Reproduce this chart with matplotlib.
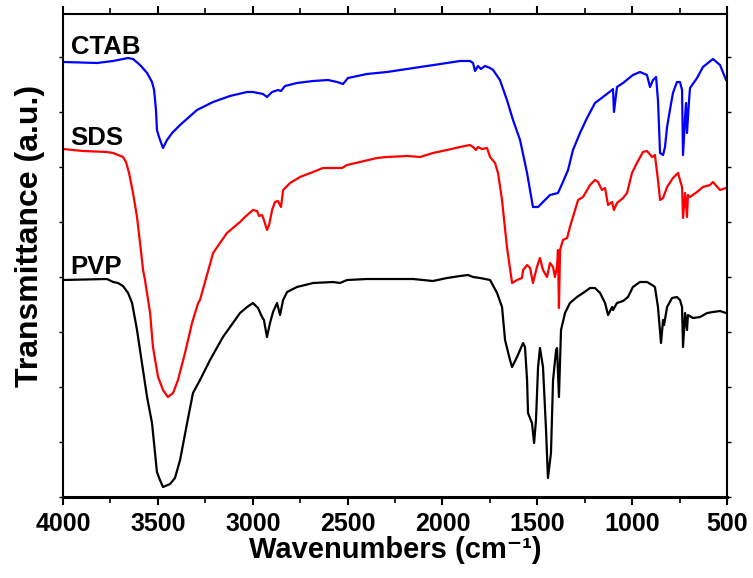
import numpy as np
import matplotlib
matplotlib.use('Agg')
import matplotlib.pyplot as plt
from matplotlib.ticker import MultipleLocator, NullFormatter

plt.rcParams['font.family'] = ['Liberation Sans', 'DejaVu Sans']
plt.rcParams['font.weight'] = 'bold'

# FTIR spectra (wavenumber in cm-1, transmittance in a.u.)
ctab_wn = [4000, 3821, 3736, 3657, 3631, 3594, 3557, 3531, 3520, 3510, 3505, 3494, 3473, 3452,
           3425, 3383, 3294, 3209, 3120, 3030, 2999, 2946, 2925, 2898, 2867, 2851, 2830, 2767,
           2682, 2603, 2556, 2524, 2498, 2398, 2292, 2187, 2081, 1976, 1907, 1855, 1839, 1828,
           1813, 1797, 1776, 1749, 1733, 1697, 1660, 1628, 1591, 1554, 1523, 1496, 1470, 1433,
           1391, 1365, 1338, 1312, 1275, 1238, 1196, 1154, 1106, 1101, 1096, 1080, 1048, 996,
           959, 922, 906, 890, 874, 864, 853, 837, 827, 816, 801, 785, 764, 748, 737, 732, 721,
           716, 711, 700, 695, 658, 627, 574, 537, 505]
ctab_t = [435, 434, 436, 439, 438, 432, 424, 415, 407, 387, 367, 360, 349, 357,
          364, 372, 387, 395, 401, 405, 405, 403, 400, 405, 407, 406, 411, 414,
          416, 417, 415, 413, 419, 423, 425, 428, 431, 434, 436, 436, 434, 426,
          431, 428, 431, 429, 427, 417, 397, 377, 357, 324, 290, 290, 295, 302,
          304, 315, 327, 347, 364, 379, 394, 400, 407, 408, 385, 410, 414, 422,
          425, 422, 410, 417, 420, 397, 344, 342, 350, 370, 387, 404, 415, 415, 407, 342, 380,
          394, 364, 397, 409, 419, 430, 438, 432, 417]

sds_wn = [4000, 3895, 3768, 3736, 3710, 3684, 3668, 3652, 3631, 3610, 3594, 3578, 3568, 3541,
          3526, 3499, 3473, 3447, 3420, 3394, 3357, 3320, 3288, 3278, 3209, 3136, 3067, 3041,
          2999, 2977, 2967, 2951, 2941, 2925, 2914, 2898, 2883, 2867, 2851, 2840, 2803, 2751,
          2682, 2630, 2529, 2503, 2435, 2345, 2292, 2187, 2118, 2050, 1976, 1907, 1855, 1839,
          1823, 1813, 1792, 1765, 1749, 1723, 1707, 1686, 1660, 1633, 1607, 1581, 1575, 1554,
          1538, 1523, 1502, 1486, 1470, 1449, 1433, 1417, 1407, 1396, 1391, 1386, 1380, 1365,
          1343, 1328, 1301, 1285, 1259, 1222, 1196, 1180, 1159, 1143, 1127, 1106, 1096, 1080,
          1048, 1027, 1001, 975, 943, 922, 895, 880, 864, 853, 837, 816, 785, 758, 748, 737,
          732, 721, 711, 706, 695, 658, 627, 590, 574, 537, 505]
sds_t = [348, 346, 345, 344, 342, 340, 335, 324, 304, 280, 254, 227, 217, 184,
         150, 120, 107, 100, 104, 117, 144, 174, 194, 197, 244, 264, 275, 280,
         287, 286, 281, 282, 277, 267, 272, 287, 295, 296, 290, 307, 314, 320,
         325, 329, 329, 332, 335, 339, 340, 341, 340, 344, 347, 350, 352, 350,
         347, 350, 348, 349, 340, 334, 324, 297, 250, 214, 217, 219, 227, 232,
         229, 214, 230, 239, 227, 220, 234, 230, 220, 230, 247, 189, 247, 257,
         259, 270, 287, 297, 300, 312, 317, 315, 307, 309, 292, 295, 287, 294,
         299, 304, 324, 334, 345, 346, 340, 342, 317, 297, 299, 310, 319, 324, 317, 310,
         279, 304, 280, 302, 300, 305, 310, 312, 315, 307, 309]

pvp_wn = [4000, 3768, 3736, 3710, 3684, 3657, 3636, 3610, 3584, 3557, 3531, 3515, 3505, 3489,
          3473, 3436, 3410, 3383, 3346, 3315, 3278, 3225, 3157, 3067, 3030, 2999, 2972, 2951,
          2941, 2925, 2909, 2893, 2872, 2856, 2840, 2819, 2767, 2682, 2577, 2540, 2503, 2398,
          2276, 2155, 2050, 1976, 1907, 1865, 1839, 1802, 1749, 1712, 1686, 1670, 1644, 1633,
          1607, 1575, 1565, 1554, 1549, 1528, 1517, 1507, 1496, 1486, 1470, 1454, 1444, 1428,
          1417, 1401, 1396, 1386, 1375, 1354, 1328, 1291, 1259, 1222, 1196, 1169, 1143, 1127,
          1106, 1101, 1080, 1048, 1022, 996, 959, 922, 895, 880, 864, 848, 837, 832, 816, 790,
          764, 748, 737, 732, 721, 711, 706, 679, 642, 605, 574, 537, 505]
pvp_t = [217, 218, 215, 214, 211, 204, 194, 167, 134, 100, 74, 44, 25, 17,
         10, 13, 19, 37, 74, 104, 117, 137, 160, 184, 190, 194, 189, 180,
         177, 160, 174, 185, 194, 182, 197, 205, 210, 214, 215, 214, 217, 218,
         218, 218, 216, 219, 221, 222, 220, 219, 217, 204, 190, 157, 137, 130,
         140, 154, 150, 117, 84, 74, 54, 77, 130, 149, 130, 67, 19, 44,
         117, 147, 149, 100, 167, 184, 194, 200, 204, 209, 209, 204, 194, 182,
         190, 187, 194, 196, 200, 210, 215, 215, 212, 210, 190, 154, 177, 172, 190, 199,
         200, 197, 190, 150, 184, 167, 182, 179, 180, 184, 185, 186, 184]

labels = ['CTAB', 'SDS', 'PVP']
label_t = [443, 352, 223]

fig = plt.figure(figsize=(7.53, 5.78), dpi=100)
ax = fig.add_axes([0.0837, 0.1401, 0.8818, 0.8357])

ax.plot(ctab_wn, ctab_t, color='#0000ff', lw=1.6)
ax.plot(sds_wn, sds_t, color='#ff0000', lw=1.6)
ax.plot(pvp_wn, pvp_t, color='black', lw=1.6)

for name, yt in zip(labels, label_t):
    ax.text(3960, yt, name, fontsize=18.5, fontweight='bold', va='baseline', ha='left')

ax.set_xlim(4000, 500)
ax.set_ylim(0, 483)
ax.xaxis.set_major_locator(MultipleLocator(500))
ax.xaxis.set_minor_locator(MultipleLocator(250))
ax.yaxis.set_major_locator(MultipleLocator(55))
ax.yaxis.set_major_formatter(NullFormatter())

ax.tick_params(axis='x', which='major', direction='out', length=6, width=1.5,
               labelsize=18, pad=5, top=True)
ax.tick_params(axis='x', which='minor', direction='out', length=4, width=1.2, top=True)
ax.tick_params(axis='y', which='major', direction='out', length=3, width=1,
               left=True, right=True)
for lbl in ax.get_xticklabels():
    lbl.set_fontweight('bold')

for side in ['left', 'top', 'right']:
    ax.spines[side].set_linewidth(1.5)
ax.spines['bottom'].set_linewidth(2.2)

ax.set_xlabel('Wavenumbers (cm\u207b\u00b9)', fontsize=21, fontweight='bold', labelpad=0)
ax.set_ylabel('Transmittance (a.u.)', fontsize=23, fontweight='bold')
ax.yaxis.set_label_coords(-0.027, 0.54)

fig.savefig('out.png', dpi=100)
